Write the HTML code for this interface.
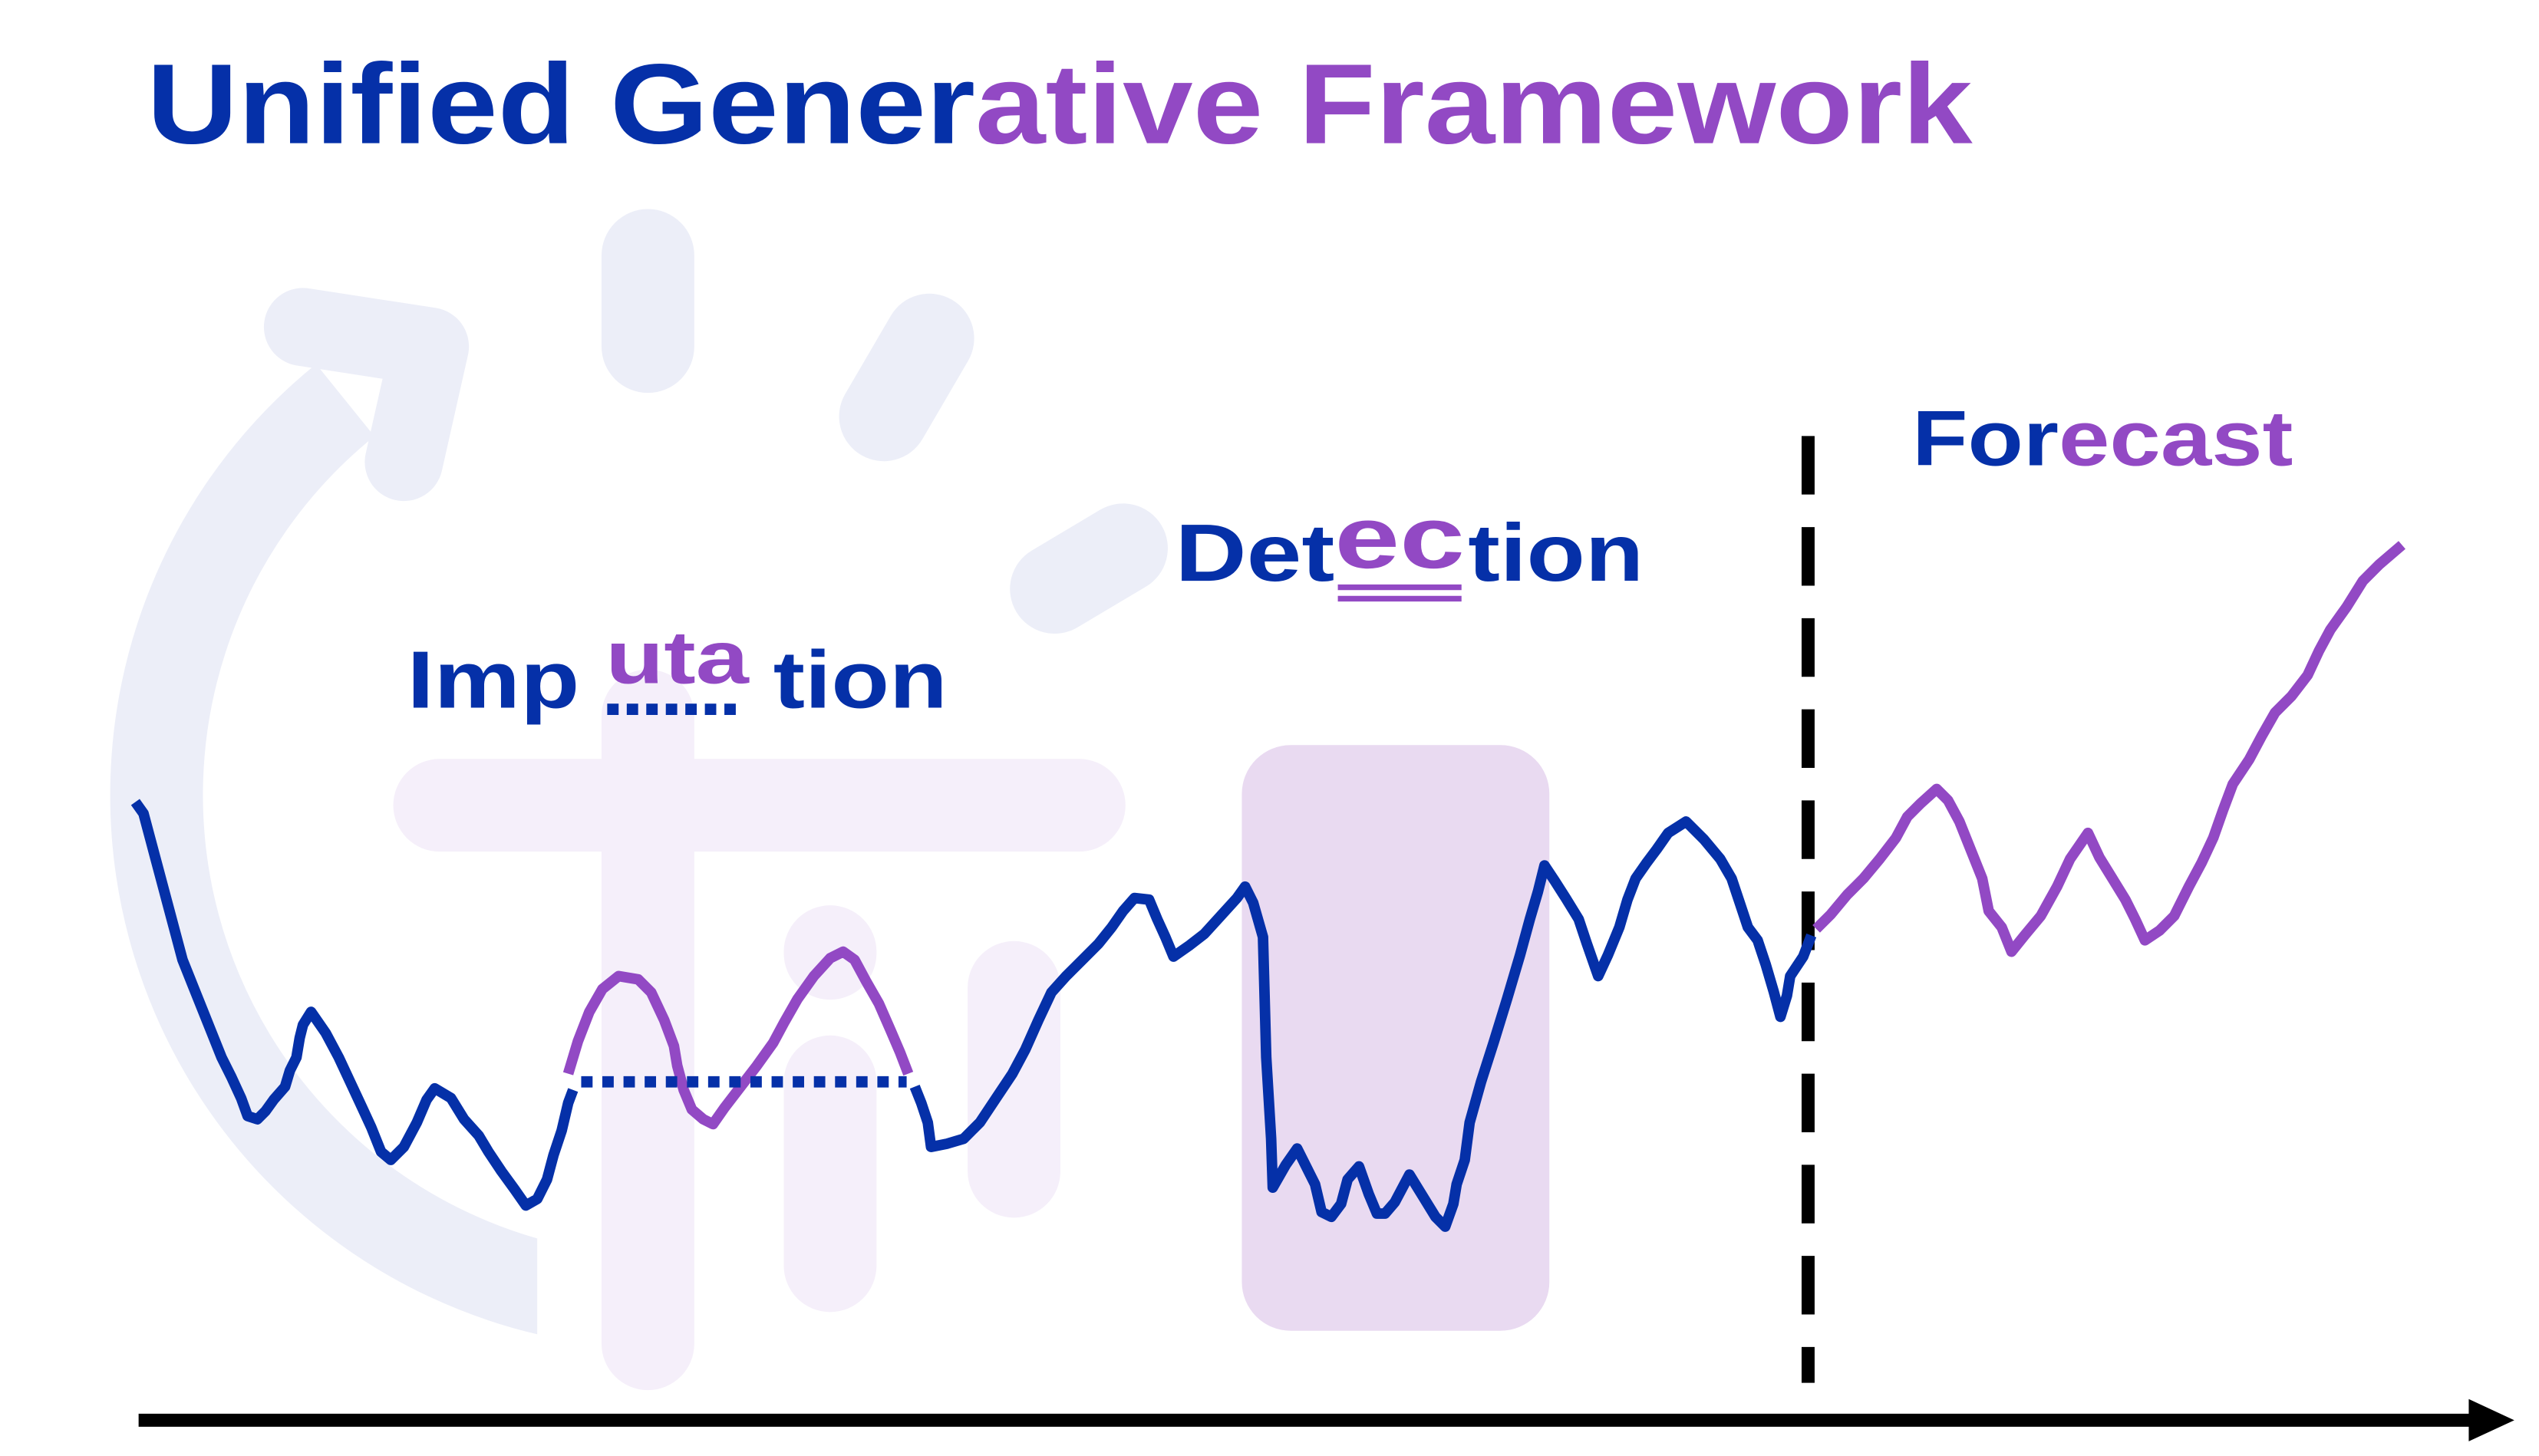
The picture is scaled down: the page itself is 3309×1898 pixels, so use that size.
<!DOCTYPE html>
<html><head><meta charset="utf-8"><style>
html,body{margin:0;padding:0;background:#fff;}
svg{display:block;}
text{font-family:"Liberation Sans",sans-serif;font-weight:bold;}
</style></head><body>
<svg width="3309" height="1898" viewBox="0 0 1560 895" xmlns="http://www.w3.org/2000/svg">
<defs><clipPath id="cl"><rect x="0" y="0" width="330" height="895"/></clipPath></defs>
<rect width="1560" height="895" fill="#fff"/>
<g stroke="#ECEEF8" fill="none">
<path d="M360,797 A312,312 0 0 1 212,246" stroke-width="57" clip-path="url(#cl)"/>
<path d="M186,201 L264,213 L248,284" stroke-width="48" stroke-linecap="round" stroke-linejoin="round"/>
<line x1="398" y1="157" x2="398" y2="213" stroke-width="57" stroke-linecap="round"/>
<line x1="571" y1="208" x2="543" y2="256" stroke-width="55" stroke-linecap="round"/>
<line x1="648" y1="362" x2="690" y2="337" stroke-width="55" stroke-linecap="round"/>
</g>
<g stroke="#F5EFFA" fill="none" stroke-linecap="round" stroke-width="57">
<line x1="270" y1="495" x2="663" y2="495"/>
<line x1="398" y1="440" x2="398" y2="826"/>
<line x1="510" y1="585" x2="510" y2="586"/>
<line x1="510" y1="665" x2="510" y2="778"/>
<line x1="623" y1="607" x2="623" y2="720"/>
</g>
<rect x="763" y="458" width="189" height="360" rx="30" fill="#E9DAF1"/>
<line x1="1111" y1="268" x2="1111" y2="850" stroke="#000" stroke-width="8" stroke-dasharray="36,20"/>
<line x1="85" y1="873" x2="1520" y2="873" stroke="#000" stroke-width="8"/>
<polygon points="1517,860 1545,873 1517,886" fill="#000"/>
<text x="90" y="88" font-size="70" textLength="1122" lengthAdjust="spacingAndGlyphs"><tspan fill="#0530A8">Unified Gener</tspan><tspan fill="#9249C4">ative Framework</tspan></text>
<text x="250" y="435" font-size="50" fill="#0530A8" textLength="106" lengthAdjust="spacingAndGlyphs">Imp</text>
<text x="372" y="420" font-size="46" fill="#9249C4" textLength="88" lengthAdjust="spacingAndGlyphs">uta</text>
<line x1="373" y1="436" x2="453" y2="436" stroke="#0530A8" stroke-width="7" stroke-dasharray="7,5"/>
<text x="475" y="435" font-size="50" fill="#0530A8" textLength="107" lengthAdjust="spacingAndGlyphs">tion</text>
<text x="722" y="357" font-size="50" fill="#0530A8" textLength="98" lengthAdjust="spacingAndGlyphs">Det</text>
<text x="820" y="349" font-size="54" fill="#9249C4" textLength="80" lengthAdjust="spacingAndGlyphs">ec</text>
<line x1="822" y1="361" x2="898" y2="361" stroke="#9249C4" stroke-width="3.5"/>
<line x1="822" y1="368" x2="898" y2="368" stroke="#9249C4" stroke-width="3.5"/>
<text x="902" y="357" font-size="50" fill="#0530A8" textLength="108" lengthAdjust="spacingAndGlyphs">tion</text>
<text x="1175" y="286" font-size="48" fill="#0530A8" textLength="90" lengthAdjust="spacingAndGlyphs">For</text>
<text x="1265" y="286" font-size="48" fill="#9249C4" textLength="144" lengthAdjust="spacingAndGlyphs">ecast</text>
<g fill="none" stroke-width="6.5" stroke-linejoin="round">
<polyline stroke="#0530A8" points="83,493 88,500 92,515 96,530 100,545 104,560 108,575 112,590 118,605 124,620 130,635 136,650 142,662 148,675 152,686 158,688 163,683 168,676 175,668 178,658 182,650 184,638 186,630 191,622 200,635 208,650 215,665 222,680 228,693 234,708 240,713 248,705 256,690 262,676 267,669 277,675 285,688 294,698 300,708 308,720 316,731 323,741 330,737 336,725 340,710 345,695 349,678 352,670"/>
<polyline stroke="#9249C4" points="349,660 355,640 362,622 370,608 380,600 392,602 400,610 408,627 414,643 416,655 420,670 425,682 432,688 438,691 445,681 455,668 465,655 475,641 482,628 490,614 500,600 510,589 518,585 525,590 532,603 540,617 547,633 553,647 558,660"/>
<line x1="357" y1="665" x2="557" y2="665" stroke="#0530A8" stroke-width="7" stroke-dasharray="7,6"/>
<polyline stroke="#0530A8" points="562,668 566,678 570,690 572,705 582,703 592,700 602,690 612,675 622,660 630,645 638,627 646,610 655,600 665,590 675,580 683,570 690,560 697,552 706,553 711,565 716,576 721,588 731,581 740,574 750,563 760,552 765,545 770,555 776,576 778,650 781,700 782,730 790,716 797,706 803,718 808,728 812,745 818,748 824,740 828,725 835,717 841,734 846,746 851,746 857,739 866,722 874,735 882,748 888,754 893,740 895,728 900,713 903,690 910,665 918,640 926,614 934,587 940,565 945,548 949,532 955,541 962,552 970,565 975,580 982,600 988,587 995,570 1000,553 1005,540 1012,530 1018,522 1025,512 1036,505 1047,516 1057,528 1064,540 1069,555 1074,570 1080,578 1085,593 1090,610 1094,625 1098,612 1100,600 1108,588 1113,575"/>
<polyline stroke="#9249C4" points="1116,571 1125,562 1135,550 1145,540 1155,528 1165,515 1172,502 1180,494 1190,485 1197,492 1204,505 1212,525 1218,540 1222,560 1230,570 1236,585 1244,575 1254,563 1264,545 1272,528 1283,512 1290,527 1298,540 1306,553 1312,565 1318,578 1327,572 1336,563 1345,545 1353,530 1360,515 1366,498 1372,482 1382,467 1390,452 1398,438 1408,428 1418,415 1425,400 1432,387 1442,373 1452,357 1462,347 1476,335"/>
</g>
</svg>
</body></html>
